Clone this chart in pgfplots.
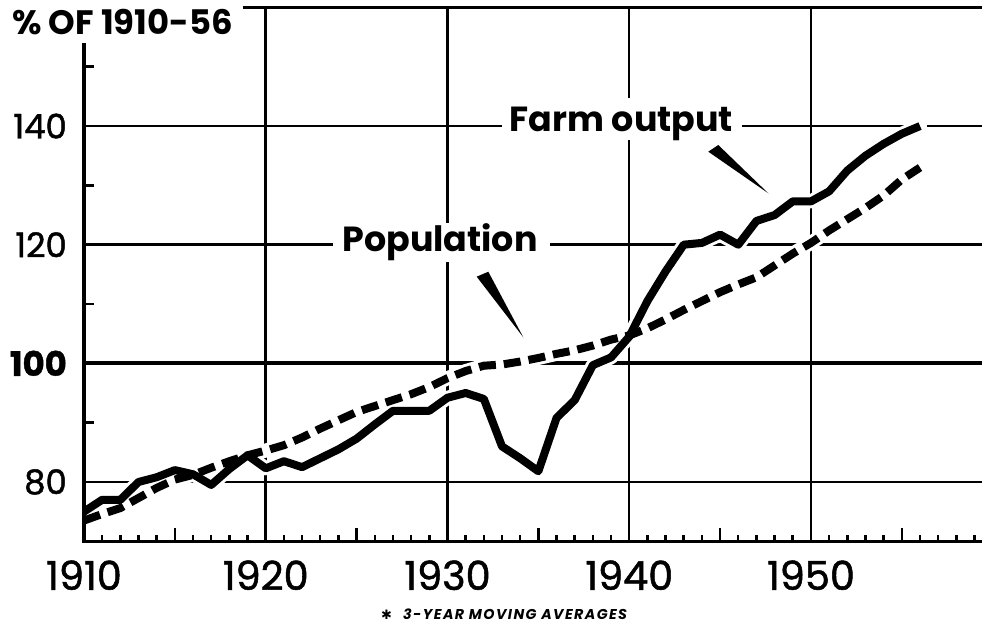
\documentclass[border=0pt]{standalone}
\usepackage{fontspec}
\setmainfont{Poppins}
\newfontfamily\tickfont{Poppins}[FakeBold=1.3]
\newfontfamily\footfont{Poppins}[LetterSpace=10]
\newfontfamily\djv{DejaVu Sans}
\usepackage{pgfplots}
\usepackage{pgfplotstable}
\pgfplotsset{compat=1.18}
\pgfplotstableread{
year val
1910 75
1911 77
1912 77
1913 80
1914 80.8
1915 82
1916 81.3
1917 79.5
1918 82.2
1919 84.5
1920 82.3
1921 83.5
1922 82.5
1923 84
1924 85.5
1925 87.3
1926 89.7
1927 92
1928 92
1929 92
1930 94.2
1931 95
1932 94
1933 86
1934 84
1935 81.8
1936 90.8
1937 93.8
1938 99.7
1939 101
1940 104.5
1941 110.5
1942 115.5
1943 120
1944 120.3
1945 121.7
1946 120
1947 124
1948 125
1949 127.3
1950 127.3
1951 129
1952 132.5
1953 135
1954 137
1955 138.7
1956 140
}\farm
\pgfplotstableread{
year val
1910 73.5
1911 74.6
1912 75.6
1913 77.3
1914 79
1915 80.4
1916 81.2
1917 82.4
1918 83.5
1919 84.5
1920 85.3
1921 86.2
1922 87.5
1923 89
1924 90.4
1925 91.8
1926 92.8
1927 93.8
1928 94.8
1929 96
1930 97.5
1931 98.7
1932 99.6
1933 99.8
1934 100.3
1935 100.9
1936 101.6
1937 102.2
1938 103
1939 104
1940 104.7
1941 105.9
1942 107.4
1943 109
1944 110.5
1945 112
1946 113.3
1947 114.5
1948 116.5
1949 118.5
1950 120.3
1951 122.4
1952 124.3
1953 126.2
1954 128.3
1955 131
1956 133
}\pop
\begin{document}
\begin{tikzpicture}
\useasboundingbox (-84bp,-81.7bp) rectangle (898bp,541.3bp);
\begin{axis}[
  at={(0,0)}, anchor=south west,
  scale only axis, width=898bp, height=533.9bp,
  xmin=1910, xmax=1959.41, ymin=70, ymax=160,
  axis line style={draw=none},
  xtick={1910,1920,1930,1940,1950},
  minor xtick={1911,...,1959},
  extra x ticks={1915,1925,1935,1945,1955},
  extra x tick labels={},
  extra x tick style={grid=none, major tick length=13bp},
  ytick={80,100,120,140},
  yticklabels={80,\textbf{100},120,140},
  extra y ticks={90,110,130,150},
  extra y tick labels={},
  extra y tick style={grid=none, major tick length=10bp},
  xtick pos=bottom, ytick pos=left,
  tick align=inside,
  major tick length=0bp, minor tick length=6bp,
  tick style={black, line width=2.5bp},
  xmajorgrids, ymajorgrids,
  major grid style={black, line width=2.5bp},
  /pgf/number format/1000 sep={},
  /pgf/number format/assume math mode=true,
  xticklabel style={font=\tickfont\fontsize{40}{40}\selectfont, inner sep=0pt, anchor=north, yshift=-19bp},
  yticklabel style={font=\tickfont\fontsize{34}{34}\selectfont, inner sep=0pt, anchor=east, xshift=-17bp},
  no markers,
]
\draw[black, line width=4bp] (axis cs:1910,100) -- (axis cs:1959.41,100);
\addplot[white, line width=14bp, line cap=round] table[x=year,y=val] {\pop};
\addplot[white, line width=14bp, line cap=round, line join=round] table[x=year,y=val] {\farm};
\addplot[black, line width=8bp, dash pattern=on 17bp off 8bp] table[x=year,y=val] {\pop};
\addplot[black, line width=8bp, line join=round] table[x=year,y=val] {\farm};
\end{axis}
% axis frame
\draw[line width=3bp] (0,533.9bp) -- (0,0) -- (898bp,0);
\draw[line width=2.5bp] (0,533.9bp) -- (898bp,533.9bp);
% title box
\fill[white] (-84bp,498.3bp) rectangle (159bp,541.3bp);
\node[anchor=base west, inner sep=0pt, font=\bfseries\fontsize{34}{34}\selectfont] at (-72bp,506.3bp) {\% OF 1910-56};
% Population label
\fill[white] (249bp,279.3bp) rectangle (466bp,318.3bp);
\node[anchor=base, inner sep=0pt, font=\bfseries\fontsize{35}{35}\selectfont] at (356bp,289.3bp) {Population};
\fill (392.7bp,264.6bp) -- (404.3bp,269.6bp) -- (439.3bp,204bp) -- cycle;
% Farm output label
\fill[white] (418bp,401.3bp) rectangle (658bp,443.3bp);
\node[anchor=base, inner sep=0pt, font=\bfseries\fontsize{35}{35}\selectfont] at (537.5bp,409.3bp) {Farm output};
\fill (624.3bp,389.6bp) -- (634.3bp,396.3bp) -- (684.3bp,348bp) -- cycle;
% footnote
\node[anchor=base west, inner sep=0pt, font=\djv\fontsize{13}{13}\selectfont] at (297bp,-78.5bp) {✱};
\node[anchor=base west, inner sep=0pt, font=\footfont\bfseries\itshape\fontsize{14.3}{14.3}\selectfont] at (319bp,-78.5bp) {3-YEAR MOVING AVERAGES};
\end{tikzpicture}
\end{document}
